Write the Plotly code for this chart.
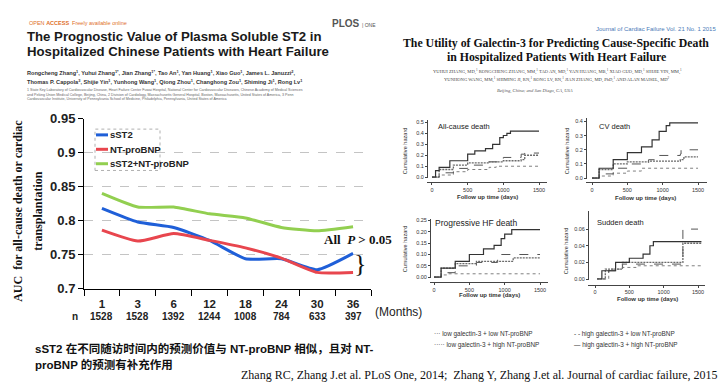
import plotly.graph_objects as go

W, H = 727, 390

# ---------------- main chart data ----------------
months = ["1", "3", "6", "12", "18", "24", "30", "36"]
n_at_risk = ["1528", "1528", "1392", "1244", "1008", "784", "633", "397"]
auc_sst2 = [0.818, 0.798, 0.790, 0.771, 0.744, 0.744, 0.728, 0.752]
auc_ntprobnp = [0.786, 0.770, 0.781, 0.771, 0.760, 0.745, 0.724, 0.724]
auc_combined = [0.840, 0.820, 0.820, 0.810, 0.804, 0.790, 0.785, 0.791]
series_names = ["sST2", "NT-proBNP", "sST2+NT-proBNP"]
y_ticks = [0.7, 0.75, 0.8, 0.85, 0.9, 0.95]
y_tick_text = ["0.7", "0.75", "0.8", "0.85", "0.9", "0.95"]

# ---------------- cumulative hazard panels (approximate) ----------------
# All-cause death
ac_hh_d = [0, 50, 100, 250, 500, 600, 750, 850, 950, 1000, 1050, 1100, 1500]
ac_hh_y = [0, 0.06, 0.09, 0.15, 0.21, 0.24, 0.26, 0.30, 0.36, 0.38, 0.40, 0.42, 0.42]
ac_hl_d = [0, 100, 300, 500, 800, 1000, 1250, 1300, 1500]
ac_hl_y = [0, 0.04, 0.08, 0.11, 0.14, 0.18, 0.21, 0.22, 0.22]
ac_lh_d = [0, 100, 300, 500, 800, 1000, 1250, 1300, 1500]
ac_lh_y = [0, 0.07, 0.11, 0.13, 0.14, 0.15, 0.16, 0.20, 0.20]
ac_ll_d = [0, 100, 300, 500, 800, 900, 1500]
ac_ll_y = [0, 0.02, 0.05, 0.07, 0.09, 0.10, 0.10]
# CV death
cv_hh_d = [0, 100, 300, 500, 700, 850, 950, 1050, 1100, 1500]
cv_hh_y = [0, 0.07, 0.13, 0.18, 0.22, 0.27, 0.33, 0.37, 0.39, 0.39]
cv_hl_d = [0, 100, 300, 500, 800, 900, 1250, 1260, 1500]
cv_hl_y = [0, 0.03, 0.07, 0.10, 0.13, 0.16, 0.17, 0.20, 0.20]
cv_lh_d = [0, 100, 300, 500, 800, 1250, 1300, 1500]
cv_lh_y = [0, 0.06, 0.10, 0.115, 0.12, 0.13, 0.15, 0.15]
cv_ll_d = [0, 100, 300, 500, 700, 1500]
cv_ll_y = [0, 0.015, 0.035, 0.05, 0.07, 0.07]
# Progressive HF death
hf_hh_d = [0, 100, 300, 500, 700, 850, 950, 1000, 1100, 1500]
hf_hh_y = [0, 0.04, 0.07, 0.10, 0.125, 0.14, 0.17, 0.19, 0.21, 0.21]
hf_hl_d = [0, 100, 300, 600, 900, 950, 1500]
hf_hl_y = [0, 0.02, 0.05, 0.065, 0.08, 0.10, 0.10]
hf_lh_d = [0, 100, 300, 600, 1100, 1120, 1500]
hf_lh_y = [0, 0.04, 0.06, 0.07, 0.07, 0.085, 0.085]
hf_ll_d = [0, 100, 200, 1500]
hf_ll_y = [0, 0.01, 0.015, 0.015]
# Sudden death
sd_hh_d = [30, 100, 300, 500, 700, 800, 850, 1550]
sd_hh_y = [0, 0.01, 0.02, 0.025, 0.03, 0.04, 0.045, 0.045]
sd_hl_d = [30, 200, 400, 1270, 1280, 1500]
sd_hl_y = [0, 0.01, 0.018, 0.019, 0.06, 0.06]
sd_lh_d = [30, 150, 400, 1270, 1280, 1550]
sd_lh_y = [0, 0.012, 0.02, 0.02, 0.043, 0.043]
sd_ll_d = [30, 200, 400, 600, 1550]
sd_ll_y = [0, 0.012, 0.014, 0.016, 0.016]

km_titles = ["All-cause death", "CV death", "Progressive HF death", "Sudden death"]
km_legend = ["low galectin-3 + low NT-proBNP", "high galectin-3 + low NT-proBNP",
             "low galectin-3 + high NT-proBNP", "high galectin-3 + high NT-proBNP"]


def px(x):
    return x / W


def py(y):
    return 1 - y / H


SANS = "Liberation Sans, Arial, sans-serif"
SERIF = "Liberation Serif, Times New Roman, serif"
CJK = "Liberation Sans, Noto Sans CJK SC, sans-serif"

fig = go.Figure()

colors = ["#1f5fd8", "#e8464e", "#92cf50"]
for name, vals, col in zip(series_names, [auc_sst2, auc_ntprobnp, auc_combined], colors):
    fig.add_trace(go.Scatter(x=months, y=vals, mode="lines", name=name,
                             line=dict(color=col, width=3, shape="spline", smoothing=0.5),
                             showlegend=False, xaxis="x", yaxis="y"))

styles = {
    "ll": dict(color="#808080", width=1, dash="dot"),
    "hl": dict(color="#555555", width=1, dash="dash"),
    "lh": dict(color="#6a6a6a", width=1.3, dash="2px,1px"),
    "hh": dict(color="#333333", width=1.2, dash="solid"),
}
panels = [
    ("x2", "y2", [("ll", ac_ll_d, ac_ll_y), ("hl", ac_hl_d, ac_hl_y), ("lh", ac_lh_d, ac_lh_y), ("hh", ac_hh_d, ac_hh_y)]),
    ("x3", "y3", [("ll", cv_ll_d, cv_ll_y), ("hl", cv_hl_d, cv_hl_y), ("lh", cv_lh_d, cv_lh_y), ("hh", cv_hh_d, cv_hh_y)]),
    ("x4", "y4", [("ll", hf_ll_d, hf_ll_y), ("hl", hf_hl_d, hf_hl_y), ("lh", hf_lh_d, hf_lh_y), ("hh", hf_hh_d, hf_hh_y)]),
    ("x5", "y5", [("ll", sd_ll_d, sd_ll_y), ("hl", sd_hl_d, sd_hl_y), ("lh", sd_lh_d, sd_lh_y), ("hh", sd_hh_d, sd_hh_y)]),
]
for xa, ya, curves in panels:
    for key, d, v in curves:
        fig.add_trace(go.Scatter(x=d, y=v, mode="lines", line=dict(shape="hv", **styles[key]),
                                 showlegend=False, xaxis=xa, yaxis=ya, hoverinfo="skip"))

layout = dict(
    width=W, height=H, margin=dict(l=0, r=0, t=0, b=0),
    paper_bgcolor="white", plot_bgcolor="rgba(0,0,0,0)", showlegend=False,
    xaxis=dict(domain=[px(84), px(371)], type="category", categoryorder="array",
               categoryarray=months, range=[-0.5, 7.5], tickson="boundaries",
               ticks="outside", ticklen=6, tickcolor="#000", showline=True,
               linecolor="#000", linewidth=1, showgrid=False, zeroline=False,
               tickvals=months, ticktext=["<b>%s</b>" % m for m in months],
               ticklabelstandoff=4,
               tickfont=dict(family=SANS, size=11.5, color="#222"), anchor="y"),
    yaxis=dict(domain=[py(293), py(116)], range=[0.7, 0.95], tickvals=y_ticks,
               ticktext=["<b>%s</b>" % t for t in y_tick_text],
               tickfont=dict(family=SANS, size=13, color="#222"), ticks="outside",
               ticklen=5, tickcolor="#000", showline=True, linecolor="#000",
               showgrid=True, gridcolor="#c4c4c4", griddash="dash", gridwidth=1,
               zeroline=False, anchor="x"),
)

km_geo = [
    dict(x0=427, x1=547, xr=[-70, 1612], yt=117, yb=177.5, yr=[-0.0044, 0.526], xl=182,
         yv=[0, 0.1, 0.2, 0.3, 0.4, 0.5], yt_txt=["0.0", "0.1", "0.2", "0.3", "0.4", "0.5"]),
    dict(x0=586, x1=707, xr=[-85, 1627], yt=115, yb=178.5, yr=[-0.0034, 0.4271], xl=182,
         yv=[0, 0.1, 0.2, 0.3, 0.4], yt_txt=["0.0", "0.1", "0.2", "0.3", "0.4"]),
    dict(x0=430, x1=548, xr=[-57, 1613], yt=220, yb=281.5, yr=[-0.0021, 0.2585], xl=286,
         yv=[0, 0.05, 0.1, 0.15, 0.2, 0.25], yt_txt=["0.00", "0.05", "0.10", "0.15", "0.20", "0.25"]),
    dict(x0=588, x1=705, xr=[-102, 1602], yt=212, yb=283.5, yr=[-0.0006, 0.0819], xl=289,
         yv=[0, 0.02, 0.04, 0.06], yt_txt=["0.00", "0.02", "0.04", "0.06"]),
]
for i, g in enumerate(km_geo):
    k = i + 2
    layout["xaxis%d" % k] = dict(domain=[px(g["x0"]), px(g["x1"])], range=g["xr"],
                                 anchor="free", position=py(g["xl"]), tickvals=[0, 500, 1000, 1500],
                                 ticks="outside", ticklen=2, tickcolor="#444", showline=True,
                                 linecolor="#444", linewidth=1, showgrid=False, zeroline=False,
                                 tickfont=dict(family=SANS, size=5.5, color="#333"))
    layout["yaxis%d" % k] = dict(domain=[py(g["yb"]), py(g["yt"])], range=g["yr"],
                                 anchor="free", position=px(g["x0"]), tickvals=g["yv"],
                                 ticktext=g["yt_txt"], ticks="outside", ticklen=2,
                                 tickcolor="#444", showline=True, linecolor="#444",
                                 linewidth=1, showgrid=False, zeroline=False,
                                 tickfont=dict(family=SANS, size=5.5, color="#333"))

fig.update_layout(**layout)

ann = []


def text(x, y, s, size, family=SANS, color="#222", xanchor="left", yanchor="middle", angle=0):
    ann.append(dict(x=px(x), y=py(y), xref="paper", yref="paper", text=s, showarrow=False,
                    xanchor=xanchor, yanchor=yanchor, textangle=angle,
                    font=dict(family=family, size=size, color=color)))


# n-row under month labels (x given as category index)
for i, n in enumerate(n_at_risk):
    ann.append(dict(x=i, y=py(322), xref="x", yref="paper", text="<b>%s</b>" % n,
                    showarrow=False, xanchor="center", yanchor="middle",
                    font=dict(family=SANS, size=10, color="#222")))
text(75, 322, "<b>n</b>", 10, xanchor="center")
text(373, 317, "(Months)", 12, color="#222")

# y title (two lines)
text(18, 212, "<b>AUC  for all-cause death or cardiac</b>", 12, family=SERIF, color="#111",
     xanchor="center", angle=-90)
text(38, 212, "<b>transplantation</b>", 12, family=SERIF, color="#111", xanchor="center", angle=-90)

# legend
leg_y = [133, 148, 163]
shapes = [dict(type="rect", xref="paper", yref="paper", x0=px(95), x1=px(160), y0=py(170), y1=py(127),
               line=dict(color="#b0b0b0", width=1, dash="dot"), fillcolor="rgba(0,0,0,0)")]
for name, col, yy in zip(series_names, colors, leg_y):
    shapes.append(dict(type="line", xref="paper", yref="paper", x0=px(96), x1=px(108),
                       y0=py(yy), y1=py(yy), line=dict(color=col, width=3)))
    text(108, yy, "<b>%s</b>" % name, 9.5, color="#222")

# P annotation & brace
text(322, 242, "<b>All  <i>P</i> > 0.05</b>", 13, family=SERIF, color="#111")
text(360, 267, "}", 26, family=SERIF, color="#111", xanchor="center")

# ---------- left paper header ----------
text(27, 17, "OPEN <b>ACCESS</b>  Freely available online", 5.5, color="#e0702a")
text(378, 17, "<b>PLOS</b> <span style='font-size:5px'>| ONE</span>", 10, color="#555", xanchor="right")
text(25, 31, "<b>The Prognostic Value of Plasma Soluble ST2 in</b>", 13.2, color="#1a1a1a")
text(25, 46, "<b>Hospitalized Chinese Patients with Heart Failure</b>", 13.2, color="#1a1a1a")
text(25, 68, "<b>Rongcheng Zhang<sup>1</sup>, Yuhui Zhang<sup>1*</sup>, Jian Zhang<sup>1*</sup>, Tao An<sup>1</sup>, Yan Huang<sup>1</sup>, Xiao Guo<sup>1</sup>, James L. Januzzi<sup>2</sup>,</b>", 5.6, color="#333")
text(25, 78, "<b>Thomas P. Cappola<sup>3</sup>, Shijie Yin<sup>1</sup>, Yunhong Wang<sup>1</sup>, Qiong Zhou<sup>1</sup>, Changhong Zou<sup>1</sup>, Shiming Ji<sup>1</sup>, Rong Lv<sup>1</sup></b>", 5.6, color="#333")
text(25, 86, "1 State Key Laboratory of Cardiovascular Disease, Heart Failure Center Fuwai Hospital, National Center for Cardiovascular Diseases, Chinese Academy of Medical Sciences", 3.6, color="#666")
text(25, 91, "and Peking Union Medical College, Beijing, China, 2 Division of Cardiology, Massachusetts General Hospital, Boston, Massachusetts, United States of America, 3 Penn", 3.6, color="#666")
text(25, 96, "Cardiovascular Institute, University of Pennsylvania School of Medicine, Philadelphia, Pennsylvania, United States of America", 3.6, color="#666")

# ---------- right paper header ----------
text(718, 23, "Journal of Cardiac Failure Vol. 21 No. 1 2015", 6, color="#4a7ab8", xanchor="right")
text(556, 37, "<b>The Utility of Galectin-3 for Predicting Cause-Specific Death</b>", 11.8, family=SERIF, color="#111", xanchor="center")
text(556, 52, "<b>in Hospitalized Patients With Heart Failure</b>", 11.8, family=SERIF, color="#111", xanchor="center")
text(557, 67, "YUHUI ZHANG, MD,<sup>1</sup> RONGCHENG ZHANG, MM,<sup>1</sup> TAO AN, MD,<sup>1</sup> YAN HUANG, MB,<sup>1</sup> XIAO GUO, MD,<sup>1</sup> SHIJIE YIN, MM,<sup>1</sup>", 4.6, family=SERIF, color="#444", xanchor="center")
text(557, 75, "YUNHONG WANG, MM,<sup>1</sup> SHIMING JI, RN,<sup>1</sup> RONG LV, RN,<sup>1</sup> JIAN ZHANG, MD, PhD,<sup>1</sup> AND ALAN MAISEL, MD<sup>2</sup>", 4.6, family=SERIF, color="#444", xanchor="center")
text(535, 87, "<i>Beijing, China; and San Diego, CA, USA</i>", 4.6, family=SERIF, color="#555", xanchor="center")

# KM panel labels
km_label_pos = [(436, 124, 7.5), (597, 124, 7.5), (433, 225, 8.5), (595, 224, 7.5)]
for t, (x, y, s) in zip(km_titles, km_label_pos):
    text(x, y, t, s, color="#222")
for x, y in [(405, 150), (567, 150), (405, 252), (566, 254)]:
    text(x, y, "Cumulative hazard", 5.6, color="#333", xanchor="center", angle=-90)
for x, y in [(487, 198), (645, 199), (489, 300), (647, 304)]:
    text(x, y, "<b>Follow up time (days)</b>", 6, color="#333", xanchor="center")

# KM legend
text(432, 340, "··· " + km_legend[0], 6.4, color="#333")
text(572, 340, "- - " + km_legend[1], 6.4, color="#333")
text(432, 351, "····· " + km_legend[2], 6.4, color="#333")
text(572, 351, "— " + km_legend[3], 6.4, color="#333")

# ---------- bottom texts ----------
text(33, 355, "<b>sST2 在不同随访时间内的预测价值与 NT-proBNP 相似，且对 NT-</b>", 11.5, family=CJK, color="#111")
text(33, 372, "<b>proBNP 的预测有补充作用</b>", 11.5, family=CJK, color="#111")
text(720, 383, "Zhang RC, Zhang J.et al. PLoS One, 2014;  Zhang Y, Zhang J.et al. Journal of cardiac failure, 2015",
     12, family=SERIF, color="#111", xanchor="right")

fig.update_layout(annotations=ann, shapes=shapes)
fig.write_html("out.html", config={"displayModeBar": False},
               post_script="document.body.style.margin='0px';")
